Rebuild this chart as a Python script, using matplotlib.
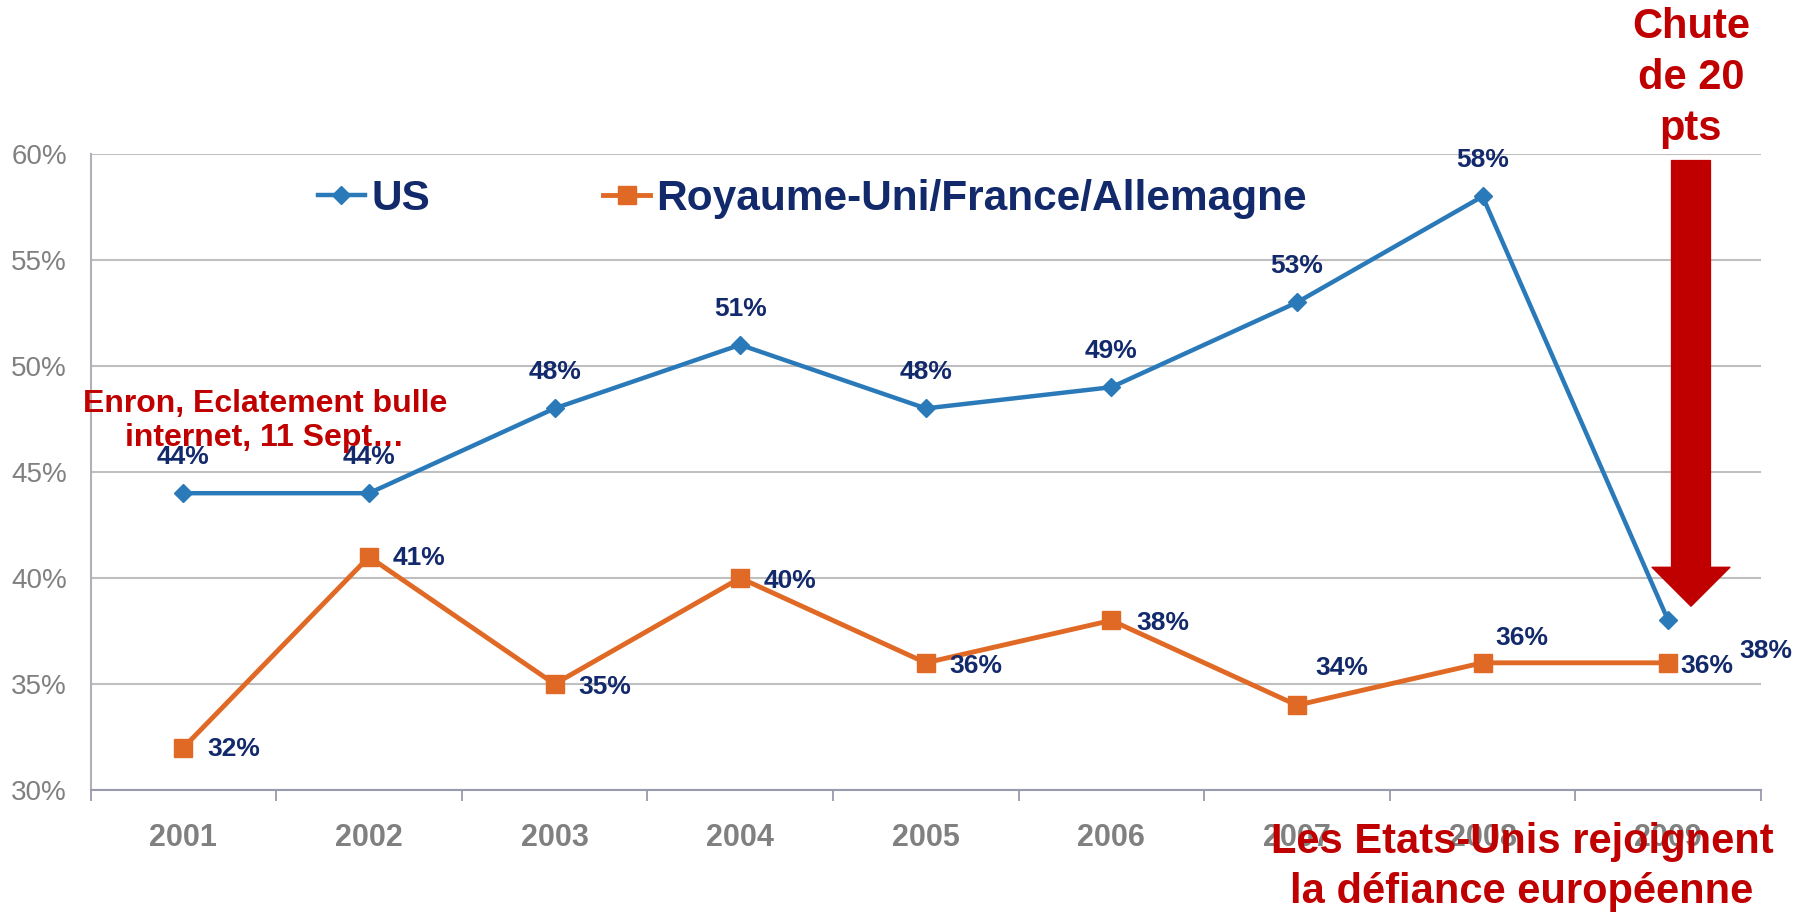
import numpy as np
import matplotlib.pyplot as plt
from matplotlib.ticker import FixedLocator

plt.rcParams['font.family'] = ['Liberation Sans', 'DejaVu Sans']

years = ['2001', '2002', '2003', '2004', '2005', '2006', '2007', '2008', '2009']
us = [44, 44, 48, 51, 48, 49, 53, 58, 38]
europe = [32, 41, 35, 40, 36, 38, 34, 36, 36]
yticks = [30, 35, 40, 45, 50, 55, 60]

# label offsets in points (dx, dy)
us_off = [(0, 26)] * 8 + [(70, -22)]
eu_off = [(36, -1), (36, -1), (36, -2), (36, -2), (36, -2), (37, -2), (32, 27), (28, 18), (28, -2)]

blue = '#2a7ab9'
orange = '#e06a25'
navy = '#12296b'
red = '#c00000'
grey = '#808080'

fig = plt.figure(figsize=(17.98, 9.15), dpi=100)
ax = fig.add_axes([0.0504, 0.1366, 0.9290, 0.6951])

x = np.arange(len(years))
l1, = ax.plot(x, us, color=blue, lw=3.2, marker='D', ms=9, label='US', zorder=3)
l2, = ax.plot(x, europe, color=orange, lw=3.5, marker='s', ms=13,
              label='Royaume-Uni/France/Allemagne', zorder=3)

for xi, v, off in zip(x, us, us_off):
    ax.annotate(f'{v}%', (xi, v), xytext=off, textcoords='offset points',
                ha='center', va='center', fontsize=19, fontweight='bold', color=navy)
for xi, v, off in zip(x, europe, eu_off):
    ax.annotate(f'{v}%', (xi, v), xytext=off, textcoords='offset points',
                ha='center', va='center', fontsize=19, fontweight='bold', color=navy)

ax.set_xlim(-0.5, len(years) - 0.5)
ax.set_ylim(30, 60)
ax.set_yticks(yticks)
ax.set_yticklabels([f'{t}%' for t in yticks])
ax.set_xticks(x)
ax.set_xticklabels(years)
ax.xaxis.set_minor_locator(FixedLocator(np.arange(-0.5, len(years), 1.0)))
ax.tick_params(axis='x', which='major', length=0, pad=24, labelsize=22, labelcolor=grey)
ax.tick_params(axis='x', which='minor', length=8, width=1.3, color='#9a9aae')
ax.tick_params(axis='y', length=0, pad=17, labelsize=20, labelcolor=grey)
for lab in ax.get_xticklabels():
    lab.set_fontweight('bold')

ax.grid(axis='y', color='#bfbfbf', lw=1.5)
ax.set_axisbelow(True)
for s in ['top', 'right']:
    ax.spines[s].set_visible(False)
ax.spines['left'].set_color('#b0b0b8')
ax.spines['bottom'].set_color('#9a9aae')
ax.spines['left'].set_linewidth(1.5)
ax.spines['bottom'].set_linewidth(1.5)

leg = ax.legend(handles=[l1, l2], loc='center left', bbox_to_anchor=(0.1235, 0.93),
                ncol=2, frameon=False, borderpad=0, handlelength=1.1, handletextpad=0.15,
                columnspacing=4.1, prop={'size': 30.5, 'weight': 'bold'})
for t in leg.get_texts():
    t.set_color(navy)

# big red arrow
ax.annotate('', xy=(8.123, 38.67), xytext=(8.123, 59.69),
            arrowprops=dict(arrowstyle='simple,head_length=28,head_width=56,tail_width=28',
                            color=red, mutation_scale=1, shrinkA=0, shrinkB=0),
            annotation_clip=False, zorder=4)

fig.text(1691 / 1798, 1 - 78 / 915, 'Chute\nde 20\npts', ha='center', va='center',
         fontsize=30, fontweight='bold', color=red, linespacing=1.35)
fig.text(265 / 1798, 1 - 421 / 915, 'Enron, Eclatement bulle\ninternet, 11 Sept…',
         ha='center', va='center', fontsize=23, fontweight='bold', color=red,
         linespacing=1.2, zorder=5)
fig.text(1522 / 1798, 1 - 867 / 915, 'Les Etats-Unis rejoignent\nla défiance européenne',
         ha='center', va='center', fontsize=30, fontweight='bold', color=red,
         linespacing=1.3, zorder=5)

fig.savefig('out.png', dpi=100)
